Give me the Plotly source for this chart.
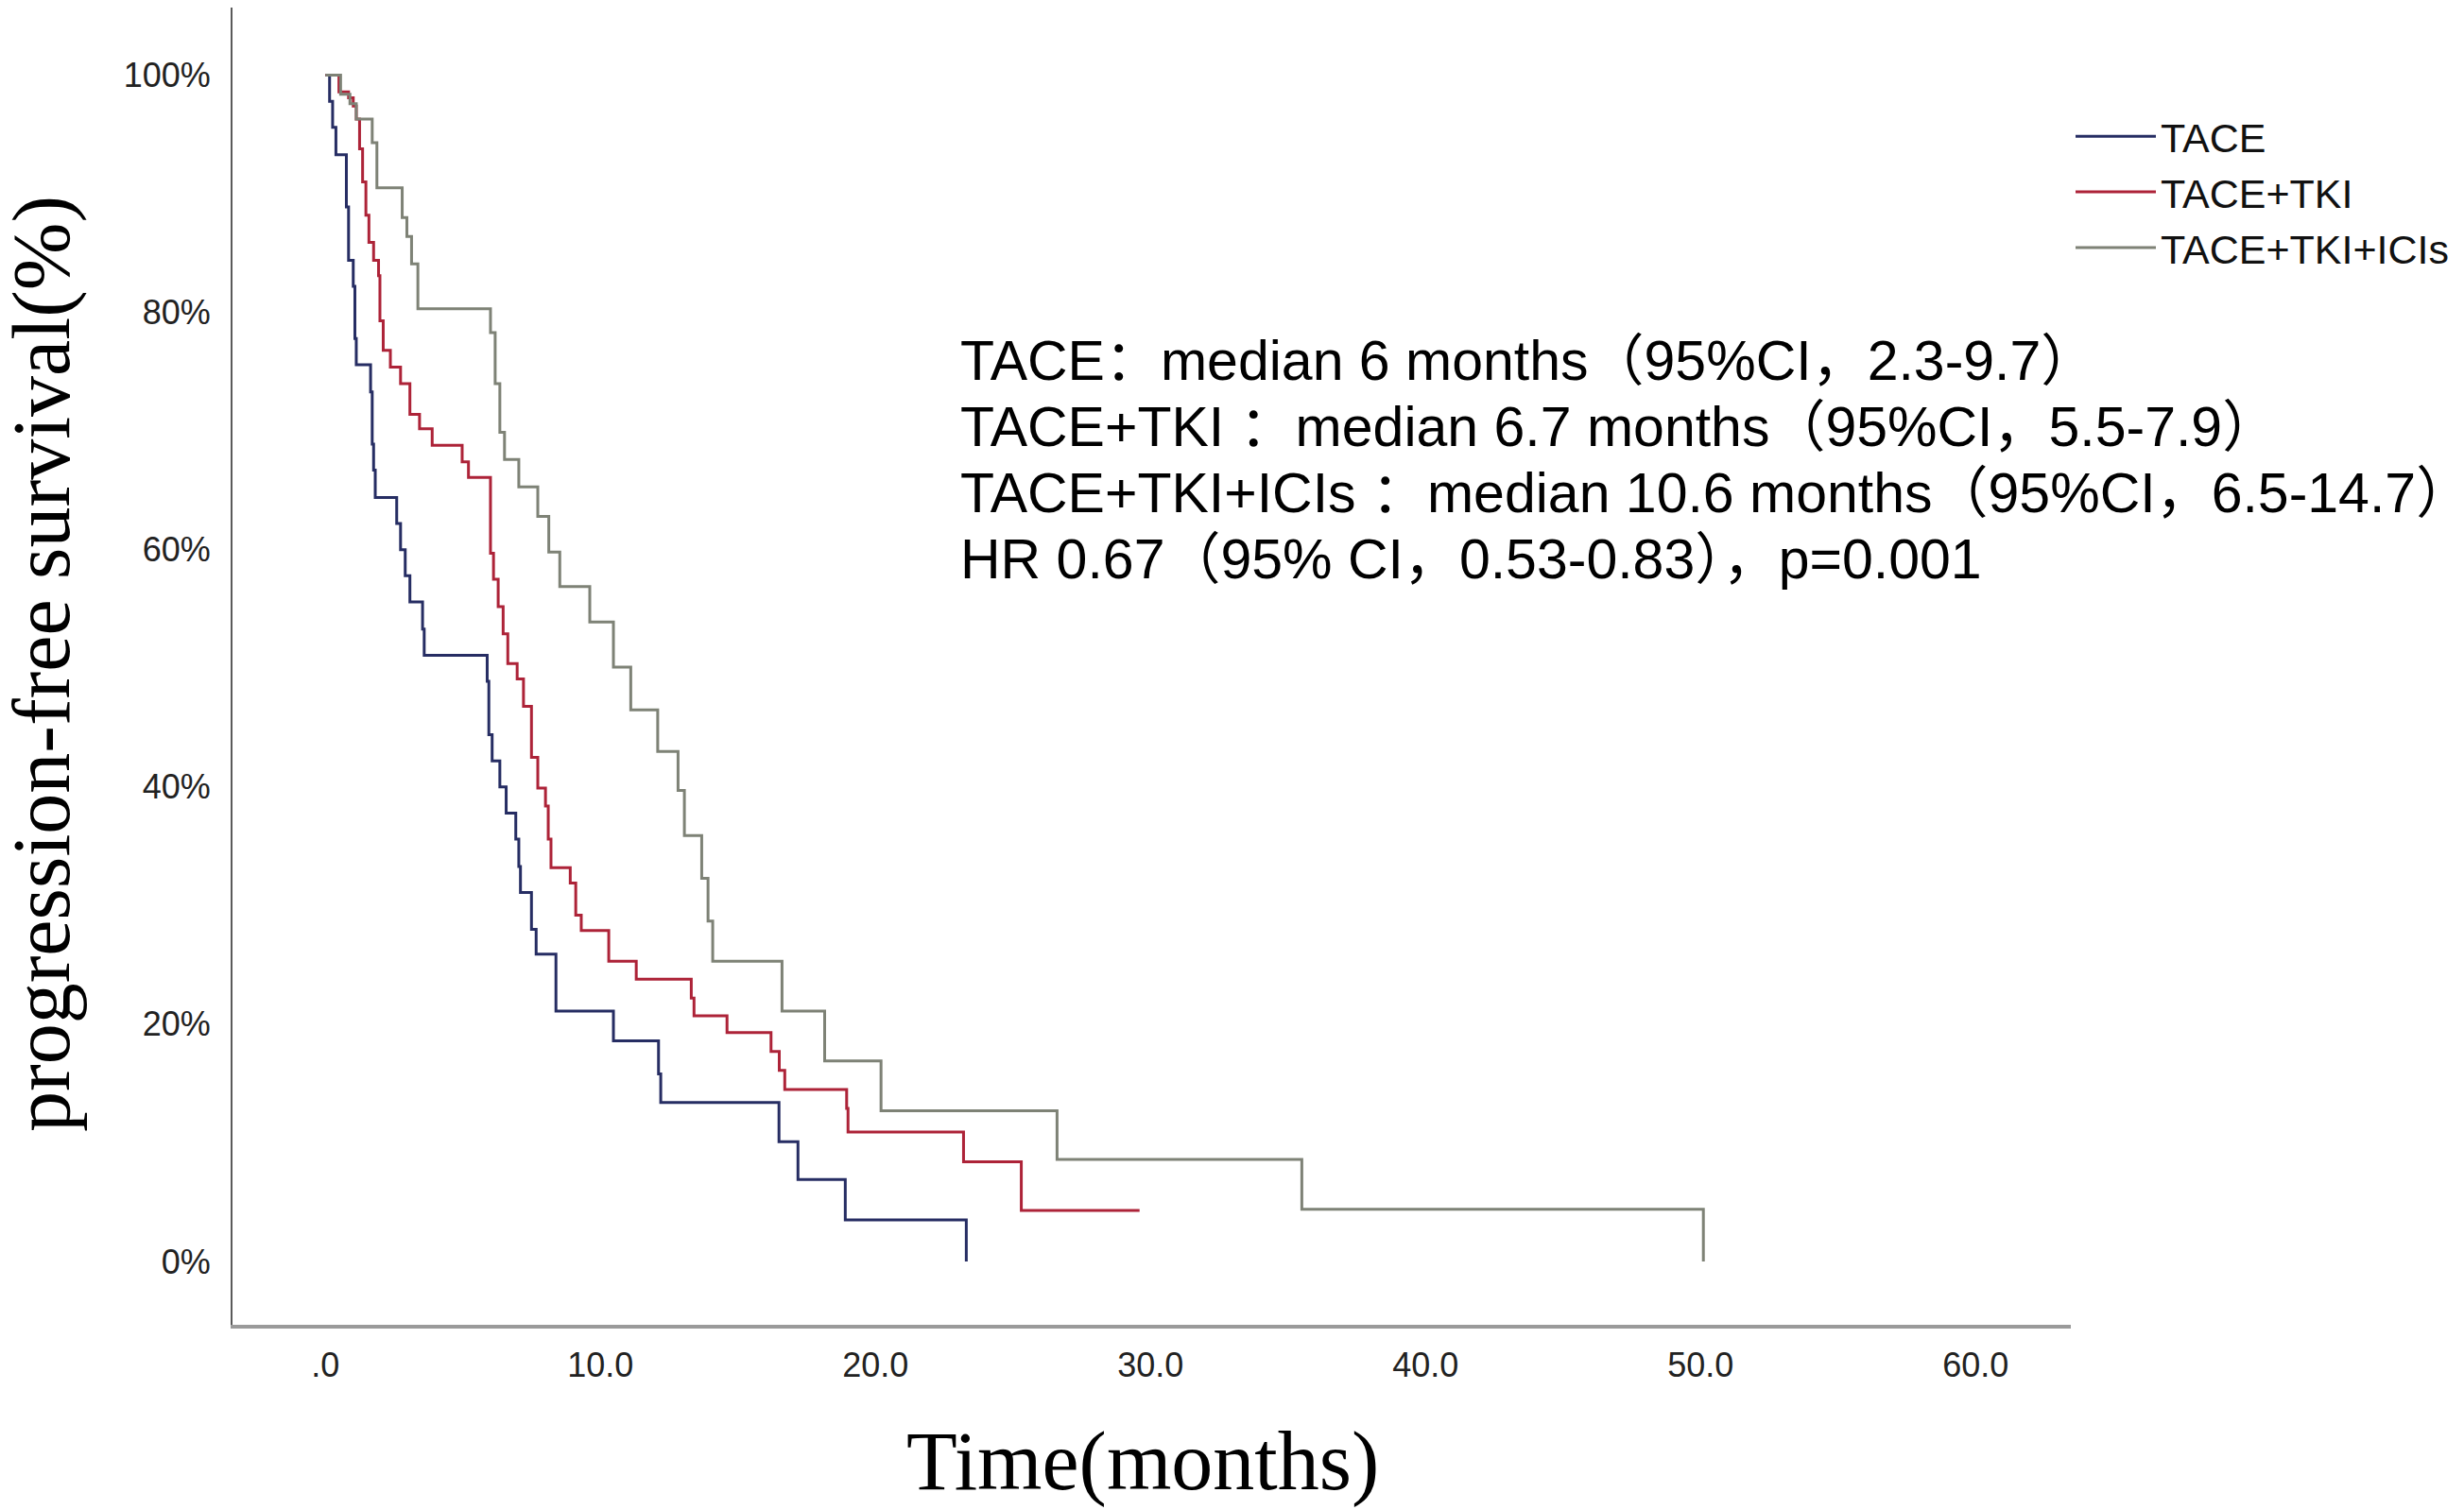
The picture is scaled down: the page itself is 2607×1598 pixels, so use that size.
import plotly.graph_objects as go

# Kaplan-Meier step data (months, % progression-free)
tace_t = [0, 0.15, 0.26, 0.38, 0.76, 0.84, 1.01, 1.07, 1.12, 1.64, 1.70, 1.75, 1.81, 2.59, 2.73, 2.90, 3.07,
          3.53, 3.59, 5.88, 5.94, 6.06, 6.34, 6.57, 6.92, 7.03, 7.09, 7.49, 7.66, 8.38, 10.47, 12.11, 12.19,
          16.49, 17.18, 18.90, 23.30]
tace_s = [100, 97.8, 95.6, 93.3, 88.9, 84.4, 82.2, 77.8, 75.6, 73.3, 68.9, 66.7, 64.4, 62.2, 60.0, 57.8, 55.6,
          53.3, 51.1, 48.9, 44.4, 42.2, 40.0, 37.8, 35.6, 33.3, 31.1, 28.0, 25.9, 21.1, 18.6, 15.8, 13.4,
          10.1, 6.9, 3.5, 0]

tki_t = [0, 0.49, 0.84, 1.01, 1.12, 1.24, 1.35, 1.47, 1.58, 1.75, 1.93, 1.98, 2.10, 2.36, 2.73, 3.07, 3.42,
         3.88, 4.97, 5.20, 6.00, 6.11, 6.28, 6.46, 6.63, 6.97, 7.20, 7.49, 7.72, 8.00, 8.10, 8.20, 8.90, 9.10,
         9.30, 10.30, 11.30, 13.30, 13.40, 14.60, 16.20, 16.50, 16.70, 18.95, 19.00, 23.20, 25.30, 29.60]
tki_s = [100, 98.6, 98.1, 97.4, 96.3, 93.8, 91.0, 88.2, 85.9, 84.4, 83.1, 79.3, 76.8, 75.4, 74.0, 71.4, 70.2,
         68.8, 67.4, 66.1, 59.7, 57.5, 55.2, 52.9, 50.4, 49.1, 46.8, 42.5, 39.9, 38.4, 35.6, 33.2, 31.9, 29.2,
         27.9, 25.3, 23.8, 22.2, 20.7, 19.3, 17.7, 16.1, 14.5, 12.9, 10.9, 8.4, 4.3, 4.3]

ici_t = [0, 0.55, 0.89, 1.12, 1.70, 1.87, 2.79, 2.96, 3.13, 3.36, 6.00, 6.17, 6.34, 6.51, 7.03, 7.72, 8.12,
         8.52, 9.61, 10.47, 11.10, 12.08, 12.82, 13.05, 13.68, 13.91, 14.08, 16.60, 18.15, 20.20, 26.60,
         35.50, 50.10]
ici_s = [100, 98.4, 97.6, 96.3, 94.3, 90.5, 88.0, 86.4, 84.1, 80.3, 78.3, 74.0, 69.9, 67.6, 65.3, 62.8, 59.8,
         56.9, 53.9, 50.1, 46.5, 43.0, 39.7, 35.9, 32.3, 28.7, 25.3, 21.1, 16.9, 12.7, 8.6, 4.4, 0]

x_ticks = [0, 10, 20, 30, 40, 50, 60]
x_labels = ['.0', '10.0', '20.0', '30.0', '40.0', '50.0', '60.0']
y_ticks = [0, 20, 40, 60, 80, 100]
y_labels = ['0%', '20%', '40%', '60%', '80%', '100%']

stats_lines = [
    'TACE：median 6 months（95%CI，2.3-9.7）',
    'TACE+TKI ：median 6.7 months（95%CI，5.5-7.9）',
    'TACE+TKI+ICIs ：median 10.6 months（95%CI，6.5-14.7）',
    'HR 0.67（95% CI，0.53-0.83），p=0.001',
]

sans = 'Liberation Sans, Arial, Noto Sans CJK SC'
serif = 'Liberation Serif, Times New Roman, serif'

fig = go.Figure()
for t, s, name, color in [(tace_t, tace_s, 'TACE', '#262d63'),
                          (tki_t, tki_s, 'TACE+TKI', '#ad2338'),
                          (ici_t, ici_s, 'TACE+TKI+ICIs', '#7e8276')]:
    fig.add_trace(go.Scatter(x=t, y=s, mode='lines', name=name,
                             line=dict(color=color, width=3, shape='hv')))

# one annotation per line of the stats block, to match the tight line spacing
notes = []
for i, line in enumerate(stats_lines):
    notes.append(dict(text=line, xref='paper', yref='paper', x=0.395, y=0.7317 - 0.0502 * i,
                      xanchor='left', yanchor='middle', align='left', showarrow=False,
                      font=dict(family=sans, size=59, color='#000')))
notes.append(dict(text='Time(months)', xref='paper', yref='paper', x=0.495, y=-0.104,
                  xanchor='center', yanchor='middle', showarrow=False,
                  font=dict(family=serif, size=88, color='#000')))
notes.append(dict(text='progression-free survival(%)', xref='paper', yref='paper', x=-0.104, y=0.502,
                  xanchor='center', yanchor='middle', textangle=-90, showarrow=False,
                  font=dict(family=serif, size=86, color='#000')))

# page body has an 8px margin, so the figure is sized 8px smaller
fig.update_layout(
    width=2599, height=1590,
    margin=dict(l=238, r=416, t=0, b=196),
    paper_bgcolor='white', plot_bgcolor='white',
    showlegend=True,
    legend=dict(x=1.0, y=0.927, xanchor='left', yanchor='top',
                font=dict(family=sans, size=43, color='#111'),
                itemwidth=85, tracegroupgap=0, bgcolor='rgba(0,0,0,0)'),
    annotations=notes,
)

fig.update_xaxes(range=[-3.38, 63.46], tickvals=x_ticks, ticktext=x_labels,
                 showgrid=False, zeroline=False, showline=True, linecolor='#9a9a9a', linewidth=4,
                 ticks='', ticklabelstandoff=8,
                 tickfont=dict(family=sans, size=36, color='#222'))
fig.update_yaxes(range=[-5.34, 105.7], tickvals=y_ticks, ticktext=y_labels,
                 showgrid=False, zeroline=False, showline=True, linecolor='#5a5a5a', linewidth=2,
                 ticks='', ticklabelstandoff=14,
                 tickfont=dict(family=sans, size=36, color='#222'))

fig.write_html("out.html")
